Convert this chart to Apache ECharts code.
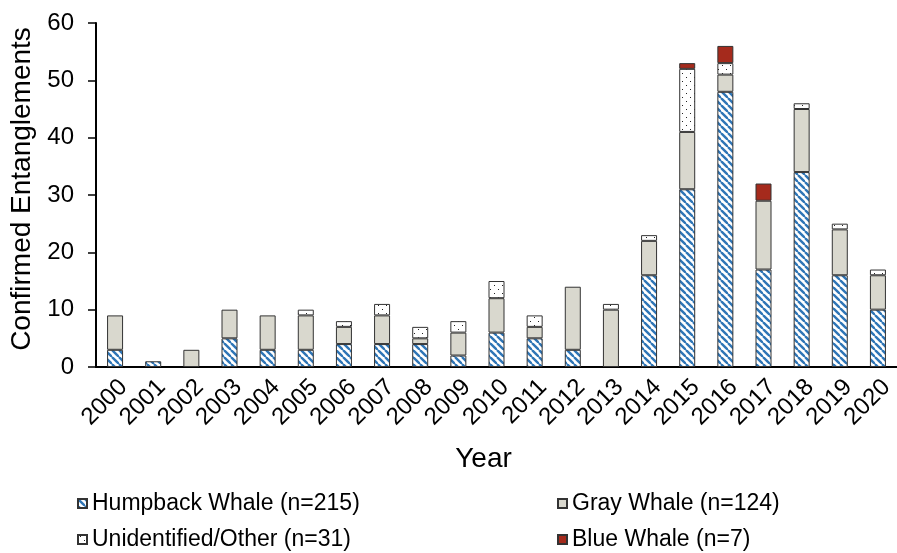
<!DOCTYPE html>
<html>
<head>
<meta charset="utf-8">
<script src="https://cdn.jsdelivr.net/npm/echarts@6/dist/echarts.min.js"></script>
<style>html,body{margin:0;padding:0;background:#fff}#c{width:897px;height:553px}</style>
</head>
<body>
<div id="c"></div>
<script>
var years = ['2000','2001','2002','2003','2004','2005','2006','2007','2008','2009','2010','2011','2012','2013','2014','2015','2016','2017','2018','2019','2020'];
var humpback = [3,1,0,5,3,3,4,4,4,2,6,5,3,0,16,31,48,17,34,16,10];
var gray     = [6,0,3,5,6,6,3,5,1,4,6,2,11,10,6,10,3,12,11,8,6];
var unident  = [0,0,0,0,0,1,1,2,2,2,3,2,0,1,1,11,2,0,1,1,1];
var blue     = [0,0,0,0,0,0,0,0,0,0,0,0,0,0,0,1,3,3,0,0,0];
var seriesNames = ['Humpback Whale (n=215)','Gray Whale (n=124)','Unidentified/Other (n=31)','Blue Whale (n=7)'];
var yTicks = [0,10,20,30,40,50,60];

function stripePattern(){
  var s = 7;
  var c = document.createElement('canvas'); c.width = s; c.height = s;
  var g = c.getContext('2d');
  g.fillStyle = '#fff'; g.fillRect(0,0,s,s);
  g.strokeStyle = '#2e75b6'; g.lineWidth = 2.4;
  [-s,0,s].forEach(function(k){ g.beginPath(); g.moveTo(k,0); g.lineTo(k+s,s); g.stroke(); });
  return c;
}
function dotPattern(){
  var c = document.createElement('canvas'); c.width = 8; c.height = 8;
  var g = c.getContext('2d');
  g.fillStyle = '#fff'; g.fillRect(0,0,8,8);
  g.fillStyle = '#222';
  g.fillRect(2,1,1,1); g.fillRect(6,5,1,1);
  return c;
}
var FONT = 'Liberation Sans, Arial, sans-serif';
var border = {borderColor:'#333', borderWidth:1};
var fills = [
  {image: stripePattern(), repeat:'repeat'},
  '#d9d8ce',
  {image: dotPattern(), repeat:'repeat'},
  '#a52a1c'
];
var datas = [humpback, gray, unident, blue];
var series = datas.map(function(d,i){
  return {
    name: seriesNames[i], type:'bar', stack:'all', barWidth:16,
    data: d.map(function(v){ return v === 0 ? null : v; }),
    itemStyle: Object.assign({color: fills[i]}, border)
  };
});
function leg(name, left, top){
  return {data:[name], left:left, top:top, orient:'horizontal', itemWidth:9, itemHeight:9, icon:'rect',
    textStyle:{fontFamily:FONT, fontSize:23, color:'#000'}, selectedMode:false};
}
var chart = echarts.init(document.getElementById('c'), null, {renderer:'canvas'});
chart.setOption({
  animation:false,
  backgroundColor:'#fff',
  grid:{left:94, right:-9, top:23, bottom:186},
  legend:[
    leg(seriesNames[0], 72, 487),
    leg(seriesNames[1], 552, 487),
    leg(seriesNames[2], 72, 523),
    leg(seriesNames[3], 552, 523)
  ],
  xAxis:{type:'category', data:years,
    axisLine:{lineStyle:{color:'#000', width:2}}, axisTick:{show:false},
    axisLabel:{rotate:45, fontFamily:FONT, fontSize:24, color:'#000', margin:8, interval:0, verticalAlign:'top'},
    name:'Year', nameLocation:'middle', nameGap:78,
    nameTextStyle:{fontFamily:FONT, fontSize:28, color:'#000', padding:[0,26,0,0]}},
  yAxis:{type:'value', min:yTicks[0], max:yTicks[yTicks.length-1], interval:10,
    splitLine:{show:false},
    axisLine:{show:true, lineStyle:{color:'#000', width:2}},
    axisTick:{show:true, length:8, lineStyle:{color:'#000', width:1.5}},
    axisLabel:{fontFamily:FONT, fontSize:24, color:'#000', margin:22},
    name:'Confirmed Entanglements', nameLocation:'middle', nameGap:60,
    nameTextStyle:{fontFamily:FONT, fontSize:28, color:'#000', padding:[0,0,0,12]}},
  series: series
});
</script>
</body>
</html>
